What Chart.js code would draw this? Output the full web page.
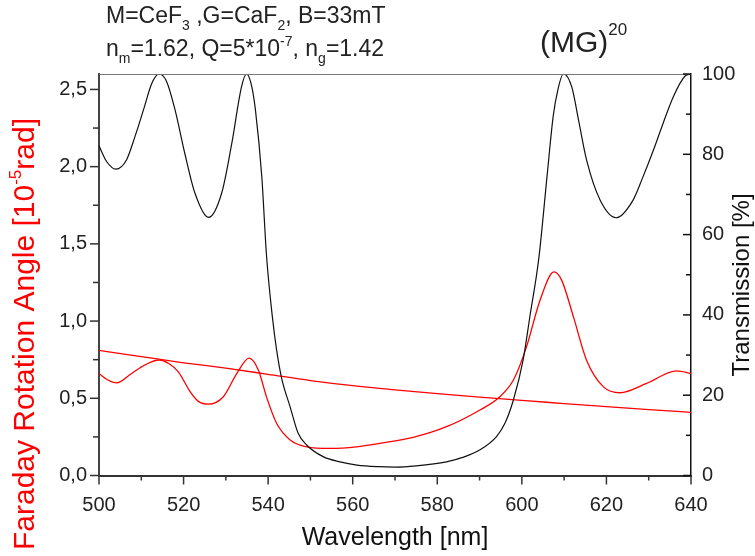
<!DOCTYPE html>
<html>
<head>
<meta charset="utf-8">
<script src="https://cdn.jsdelivr.net/npm/chart.js@4/dist/chart.umd.min.js"></script>
<style>
  html, body { margin: 0; padding: 0; background: #fff; }
  #wrap { width: 755px; height: 556px; position: relative; }
</style>
</head>
<body>
<div id="wrap"><canvas id="c" width="755" height="556"></canvas></div>
<script>
// Axis tick values
const wavelengthTicks = [500, 520, 540, 560, 580, 600, 620, 640];
const wavelengthMinor = [510, 530, 550, 570, 590, 610, 630];
const rotationTicks = [0, 0.5, 1.0, 1.5, 2.0, 2.5];
const rotationMinor = [0.25, 0.75, 1.25, 1.75, 2.25];
const transmissionTicks = [0, 20, 40, 60, 80, 100];
const transmissionMinor = [10, 30, 50, 70, 90];

// Transmission of the (MG)^20 stack [%]
const transWl = [500, 501.8, 504.0, 506.5, 508.5, 510.5, 512.5, 514.2, 516, 518, 520.3, 522.7, 525.9,
  529, 531.4, 533.7, 534.9, 536.1, 537.0, 538.5, 539.6, 541.0, 542.0, 543.2, 545.2, 547.1, 549.1,
  553, 557, 561, 566, 570, 575, 582.2, 586, 590.1, 594, 596, 598, 600.3, 601.9, 604, 606, 607.4,
  608.5, 609.8, 611.8, 613.5, 615.3, 618.5, 622.3, 626.3, 628.5, 631.1, 633.5, 635.8, 638.6, 640];
const transVal = [82.1, 78.2, 76.3, 78.6, 84.4, 91.0, 97.7, 100, 98.1, 91.0, 80.2, 70.3, 64.3,
  70.3, 82.7, 96.8, 100, 97, 91, 74.4, 55, 39.5, 31.3, 24.2, 17.1, 10.5, 7.6,
  4.7, 3.4, 2.6, 2.2, 2.1, 2.4, 3.4, 4.5, 6.4, 9.7, 13, 18.8, 28.8, 39.6, 54, 75, 89.4,
  96, 100, 96.8, 88, 78.6, 68.6, 64.2, 68.6, 74, 81, 88, 94.3, 99.5, 100];

// Faraday rotation of the stack [10^-5 rad]
const faradayWl = [500, 502, 504.2, 507.7, 510.8, 514.2, 516.5, 518.8, 521.5, 523.5, 525.9, 529.4, 532.6,
  535.5, 537.7, 539.6, 542, 545.2, 549.1, 554.6, 560.9, 566.4, 574.3, 582.2, 590.1, 594.8, 598, 601.1,
  604.3, 607.6, 609.4, 612.2, 615.3, 619.3, 623.2, 629.5, 636.6, 640];
const faradayVal = [0.661, 0.62, 0.600, 0.661, 0.715, 0.748, 0.725, 0.67, 0.545, 0.48, 0.462, 0.510, 0.661,
  0.760, 0.682, 0.510, 0.338, 0.230, 0.186, 0.176, 0.186, 0.208, 0.247, 0.316, 0.424, 0.510, 0.618, 0.833,
  1.135, 1.318, 1.265, 1.027, 0.747, 0.574, 0.536, 0.596, 0.678, 0.661];

// Faraday rotation of the bulk magnetic layer [10^-5 rad]
const bulkWl = [500, 510, 520, 530, 540, 550, 560, 570, 580, 590, 600, 610, 620, 630, 640];
const bulkVal = [0.81, 0.77, 0.73, 0.695, 0.655, 0.615, 0.582, 0.555, 0.53, 0.507, 0.486, 0.466, 0.446, 0.427, 0.409];

const FONT = "'Liberation Sans', Arial, Helvetica, sans-serif";
const pts = (xs, ys) => xs.map((x, i) => ({ x, y: ys[i] }));
const commaLabel = v => v.toFixed(1).replace('.', ',');

// Text runs with sub/superscript pieces, drawn from x along baseline y
function richWidth(ctx, parts) {
  let w = 0;
  for (const p of parts) { ctx.font = p.size + 'px ' + FONT; w += ctx.measureText(p.t).width; }
  return w;
}
function drawRich(ctx, x, y, parts, color) {
  ctx.fillStyle = color;
  ctx.textBaseline = 'alphabetic';
  ctx.textAlign = 'left';
  for (const p of parts) {
    ctx.font = p.size + 'px ' + FONT;
    ctx.fillText(p.t, x, y + (p.dy || 0));
    x += ctx.measureText(p.t).width;
  }
}

const decorations = {
  id: 'decorations',
  afterDraw(chart) {
    const { ctx, chartArea: a, scales } = chart;
    const sx = scales.x, sl = scales.yL, sr = scales.yR;
    ctx.save();

    // top frame line
    ctx.strokeStyle = '#777';
    ctx.lineWidth = 1.2;
    ctx.beginPath(); ctx.moveTo(a.left, a.top + 0.5); ctx.lineTo(a.right, a.top + 0.5); ctx.stroke();

    // tick marks
    ctx.strokeStyle = '#333';
    ctx.lineWidth = 1.5;
    const tick = (x1, y1, x2, y2) => { ctx.beginPath(); ctx.moveTo(x1, y1); ctx.lineTo(x2, y2); ctx.stroke(); };
    wavelengthTicks.forEach(v => { const x = sx.getPixelForValue(v); tick(x, a.bottom, x, a.bottom + 9); });
    wavelengthMinor.forEach(v => { const x = sx.getPixelForValue(v); tick(x, a.bottom, x, a.bottom + 5); });
    rotationTicks.forEach(v => { const y = sl.getPixelForValue(v); tick(a.left, y, a.left - 9, y); });
    rotationMinor.forEach(v => { const y = sl.getPixelForValue(v); tick(a.left, y, a.left - 6, y); });
    ctx.strokeStyle = '#111';
    transmissionTicks.forEach(v => { const y = sr.getPixelForValue(v); tick(a.right, y, a.right - 8, y); });
    transmissionMinor.forEach(v => { const y = sr.getPixelForValue(v); tick(a.right, y, a.right - 5, y); });

    // header annotation
    const T = '#222';
    drawRich(ctx, 106, 23, [
      { t: 'M=CeF', size: 23 }, { t: '3', size: 14, dy: 7 }, { t: ' ,G=CaF', size: 23 },
      { t: '2', size: 14, dy: 7 }, { t: ', B=33mT', size: 23 }
    ], T);
    drawRich(ctx, 106, 56, [
      { t: 'n', size: 23 }, { t: 'm', size: 14, dy: 7 }, { t: '=1.62, Q=5*10', size: 23 },
      { t: '-7', size: 14, dy: -10 }, { t: ', n', size: 23 }, { t: 'g', size: 14, dy: 7 },
      { t: '=1.42', size: 23 }
    ], T);
    drawRich(ctx, 540, 52, [{ t: '(MG)', size: 30 }, { t: '20', size: 17, dy: -17 }], T);

    // x axis title
    ctx.fillStyle = '#111';
    ctx.font = '25px ' + FONT;
    ctx.textAlign = 'center';
    ctx.textBaseline = 'middle';
    ctx.fillText('Wavelength [nm]', 395, 538);

    // left axis title (rotated)
    const leftParts = [
      { t: 'Faraday Rotation Angle [10', size: 30 }, { t: '-5', size: 17, dy: -13 }, { t: 'rad]', size: 30 }
    ];
    ctx.save();
    ctx.translate(34, 334);
    ctx.rotate(-Math.PI / 2);
    drawRich(ctx, -richWidth(ctx, leftParts) / 2, 0, leftParts, '#ff0000');
    ctx.restore();

    // right axis title (rotated)
    const rightParts = [{ t: 'Transmission [%]', size: 24 }];
    ctx.save();
    ctx.translate(749, 285);
    ctx.rotate(-Math.PI / 2);
    drawRich(ctx, -richWidth(ctx, rightParts) / 2, 0, rightParts, '#111');
    ctx.restore();

    ctx.restore();
  }
};

new Chart(document.getElementById('c'), {
  type: 'line',
  data: {
    datasets: [
      { label: 'Transmission', data: pts(transWl, transVal), yAxisID: 'yR',
        borderColor: '#111', borderWidth: 1.2, pointRadius: 0, cubicInterpolationMode: 'monotone' },
      { label: 'Faraday rotation (MG)20', data: pts(faradayWl, faradayVal), yAxisID: 'yL',
        borderColor: '#ff0000', borderWidth: 1.3, pointRadius: 0, cubicInterpolationMode: 'monotone' },
      { label: 'Faraday rotation bulk', data: pts(bulkWl, bulkVal), yAxisID: 'yL',
        borderColor: '#ff0000', borderWidth: 1.3, pointRadius: 0, cubicInterpolationMode: 'monotone' }
    ]
  },
  options: {
    responsive: false,
    animation: false,
    devicePixelRatio: 1,
    layout: { padding: { top: 74, left: 0, right: 0, bottom: 0 } },
    plugins: { legend: { display: false }, tooltip: { enabled: false }, title: { display: false } },
    scales: {
      x: {
        type: 'linear', position: 'bottom', min: 500, max: 640,
        afterBuildTicks: s => { s.ticks = wavelengthTicks.map(v => ({ value: v })); },
        afterFit: s => { s.height = 80.5; },
        grid: { display: false, drawTicks: false },
        border: { display: true, color: '#333', width: 2 },
        ticks: { color: '#222', font: { family: FONT, size: 20 }, padding: 18, maxRotation: 0,
                 callback: v => String(v) }
      },
      yL: {
        type: 'linear', position: 'left', min: 0, max: 2.6,
        afterBuildTicks: s => { s.ticks = rotationTicks.map(v => ({ value: v })); },
        afterFit: s => { s.width = 99; },
        grid: { display: false, drawTicks: false },
        border: { display: true, color: '#444', width: 2 },
        ticks: { color: '#222', font: { family: FONT, size: 20 }, padding: 12, callback: v => commaLabel(v) }
      },
      yR: {
        type: 'linear', position: 'right', min: 0, max: 100,
        afterBuildTicks: s => { s.ticks = transmissionTicks.map(v => ({ value: v })); },
        afterFit: s => { s.width = 64; },
        grid: { display: false, drawTicks: false },
        border: { display: true, color: '#111', width: 1.5 },
        ticks: { color: '#222', font: { family: FONT, size: 20 }, padding: 11, callback: v => String(v) }
      }
    }
  },
  plugins: [decorations]
});
</script>
</body>
</html>
